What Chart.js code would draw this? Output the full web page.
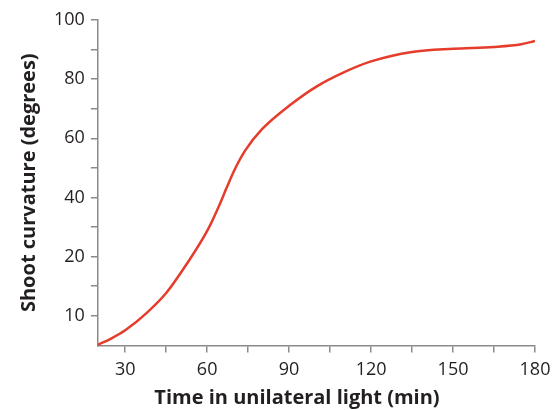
<!DOCTYPE html>
<html>
<head>
<meta charset="utf-8">
<script src="https://cdn.jsdelivr.net/npm/chart.js@4"></script>
<style>
  html, body { margin: 0; padding: 0; background: #fff; }
  #wrap { width: 560px; height: 410px; }
</style>
</head>
<body>
<div id="wrap"><canvas id="myChart"></canvas></div>
<script>
// time (min) and shoot curvature
const times = [20, 25, 30, 38, 45, 52.5, 60, 64.5, 67, 70, 74, 80, 90, 100, 110, 120, 135, 150, 165, 175, 180];
const curvature = [-9.8, -7.6, -4.9, 1.1, 7.7, 17.5, 28.7, 37.5, 43.0, 49.3, 56.0, 63.0, 71.0, 77.5, 82.3, 86.0, 89.2, 90.3, 90.9, 91.8, 92.9];

const xTicks = [30, 45, 60, 75, 90, 105, 120, 135, 150, 165, 180];
const xTickLabels = ['30', '', '60', '', '90', '', '120', '', '150', '', '180'];
const yTicks = [0, 10, 20, 30, 40, 50, 60, 70, 80, 90, 100];
const yTickLabels = ['10', '', '20', '', '40', '', '60', '', '80', '', '100'];
const xTitle = 'Time in unilateral light (min)';
const yTitle = 'Shoot curvature (degrees)';

const axisGrey = '#8a8a8a';
const textColor = '#231f20';

// x title sits a little left of the axis centre in the original
const xTitlePlugin = {
    id: 'xTitle',
    afterDraw(chart) {
        const ctx = chart.ctx;
        ctx.save();
        ctx.font = 'bold 20px "Open Sans"';
        ctx.fillStyle = textColor;
        ctx.textAlign = 'center';
        ctx.textBaseline = 'middle';
        ctx.fillText(xTitle, 297, 398);
        ctx.restore();
    }
};

const data = {
    datasets: [{
        label: 'Shoot curvature',
        data: times.map((t, i) => ({ x: t, y: curvature[i] })),
        borderColor: '#e63c2b',
        borderWidth: 2.5,
        pointRadius: 0,
        cubicInterpolationMode: 'monotone',
        fill: false
    }]
};

const config = {
    type: 'line',
    data: data,
    plugins: [xTitlePlugin],
    options: {
        responsive: true,
        maintainAspectRatio: false,
        animation: false,
        layout: { padding: { top: 20, right: 25, left: 17, bottom: 22 } },
        plugins: { legend: { display: false }, tooltip: { enabled: false } },
        scales: {
            x: {
                type: 'linear',
                min: 20,
                max: 180,
                afterBuildTicks: (scale) => { scale.ticks = xTicks.map(v => ({ value: v })); },
                ticks: {
                    autoSkip: false,
                    maxRotation: 0,
                    color: textColor,
                    font: { family: 'Open Sans', size: 18 },
                    padding: 7,
                    callback: (v) => xTickLabels[xTicks.indexOf(v)]
                },
                grid: { drawOnChartArea: false, drawTicks: true, tickLength: 7, color: axisGrey, lineWidth: 1.5 },
                border: { display: true, color: axisGrey, width: 1.5 },
                title: { display: false }
            },
            y: {
                type: 'linear',
                min: -10,
                max: 100,
                afterBuildTicks: (scale) => { scale.ticks = yTicks.map(v => ({ value: v })); },
                ticks: {
                    autoSkip: false,
                    color: textColor,
                    font: { family: 'Open Sans', size: 18 },
                    padding: 6,
                    callback: (v) => yTickLabels[yTicks.indexOf(v)]
                },
                grid: { drawOnChartArea: false, drawTicks: true, tickLength: 7, color: axisGrey, lineWidth: 1.5 },
                border: { display: true, color: axisGrey, width: 1.5 },
                title: {
                    display: true,
                    text: yTitle,
                    color: textColor,
                    font: { family: 'Open Sans', size: 20, weight: 'bold' },
                    padding: { top: 0, bottom: 7 }
                }
            }
        }
    }
};

const myChart = new Chart(document.getElementById('myChart'), config);
</script>
</body>
</html>
